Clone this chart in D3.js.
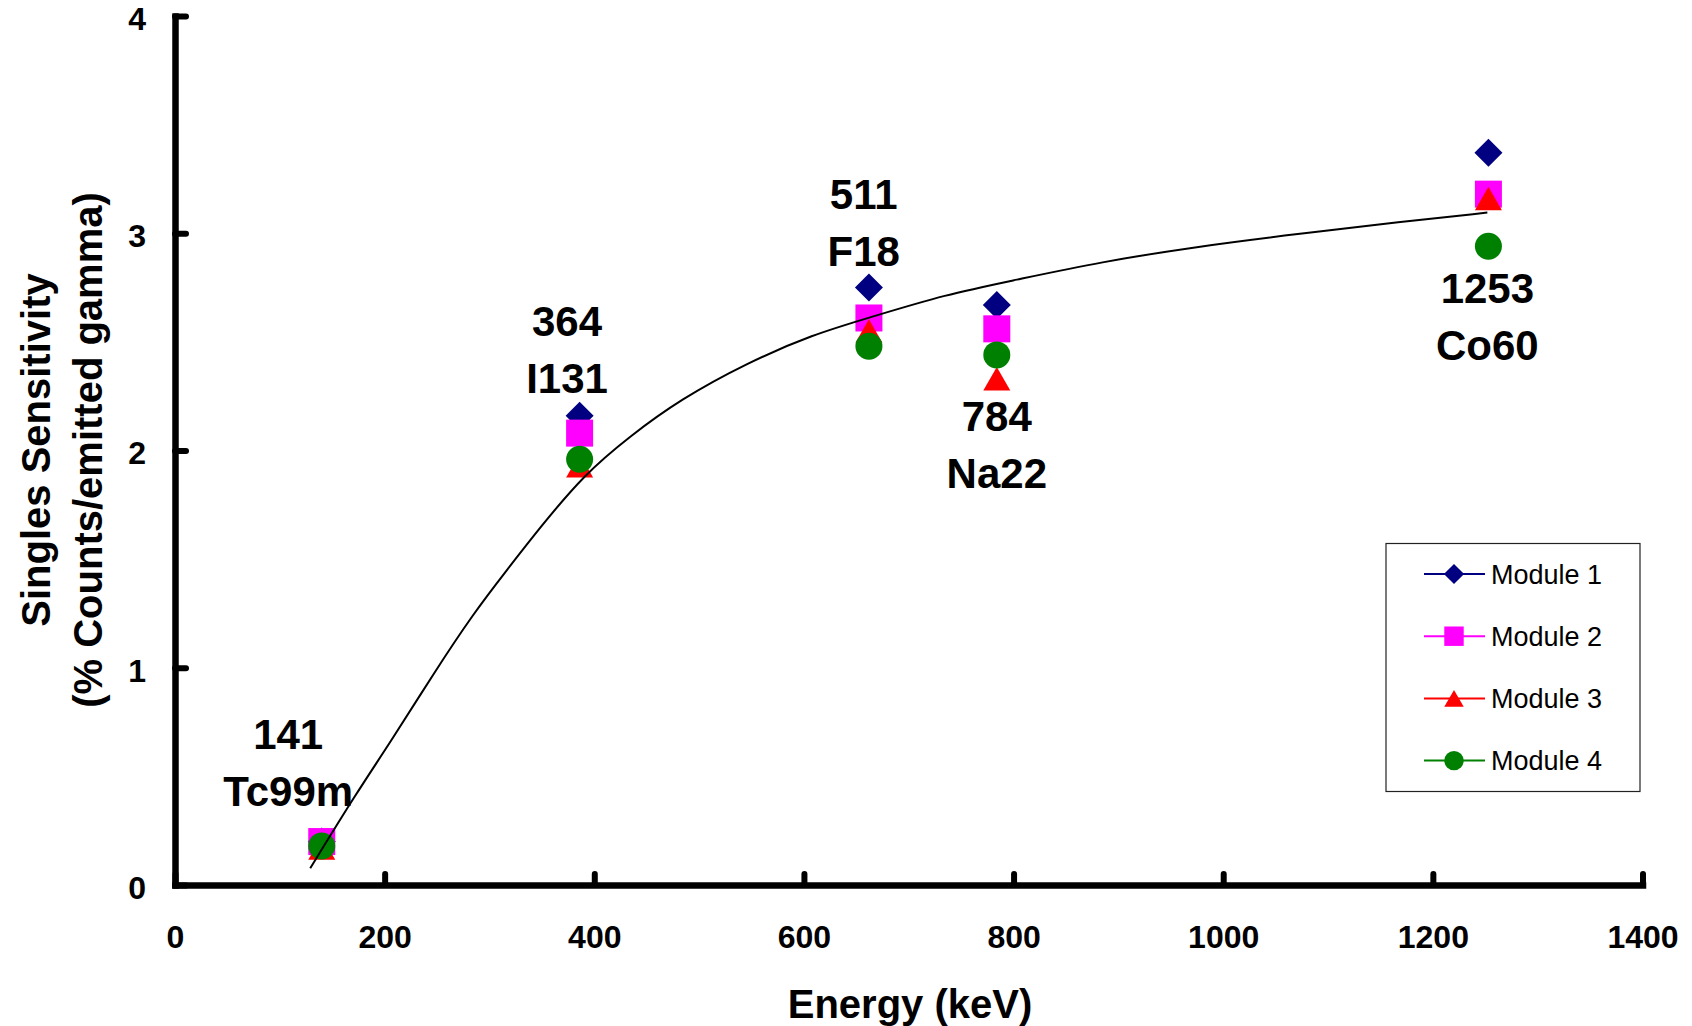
<!DOCTYPE html>
<html>
<head>
<meta charset="utf-8">
<script src="https://cdn.jsdelivr.net/npm/d3@7"></script>
<style>
  html, body { margin: 0; padding: 0; background: #fff; }
  svg { display: block; font-family: "Liberation Sans", Arial, Helvetica, sans-serif; }
</style>
</head>
<body>
<svg id="chart" width="1692" height="1026"></svg>
<script>
// measured energies (keV) and singles sensitivity per module
const energies = [140, 386, 662, 784, 1253];
const module1 = [0.20, 2.16, 2.75, 2.67, 3.37];
const module2 = [0.20, 2.08, 2.61, 2.56, 3.18];
const module3 = [0.17, 1.93, 2.55, 2.33, 3.16];
const module4 = [0.18, 1.96, 2.48, 2.44, 2.94];

// fitted trend line
const fitEnergy = [129, 173, 205, 247, 285, 317, 348, 390, 434, 482, 546, 609, 662, 736, 800, 883, 978, 1073, 1169, 1252];
const fitSens = [0.077, 0.423, 0.653, 0.976, 1.252, 1.452, 1.644, 1.888, 2.066, 2.235, 2.404, 2.535, 2.611, 2.719, 2.783, 2.868, 2.941, 2.998, 3.052, 3.095];

// source annotations: energy line, isotope line, anchor in data units
const labelTop = ["141", "364", "511", "784", "1253"];
const labelBottom = ["Tc99m", "I131", "F18", "Na22", "Co60"];
const labelE = [108, 374, 657, 784, 1252];
const labelS = [0.696, 2.594, 3.18, 2.16, 2.747];

const xTicks = [0, 200, 400, 600, 800, 1000, 1200, 1400];
const yTicks = [0, 1, 2, 3, 4];
const seriesNames = ["Module 1", "Module 2", "Module 3", "Module 4"];

const colors = ["#000080", "#FF00FF", "#FF0000", "#008000"];
const shapes = ["diamond", "square", "triangle", "circle"];

const svg = d3.select("#chart");
svg.append("rect").attr("width", 1692).attr("height", 1026).attr("fill", "#fff");

const x = d3.scaleLinear().domain([0, 1400]).range([175, 1642.5]);
const y = d3.scaleLinear().domain([0, 4]).range([885, 16]);

// marker drawing, sized to ~27px boxes like the original
function marker(sel, shape, k) {
    const s = k || 1;
    if (shape === "diamond") {
        sel.attr("d", d3.symbol(d3.symbolSquare, 392 * s * s)()).attr("data-rot", 45);
    } else if (shape === "square") {
        sel.attr("d", d3.symbol(d3.symbolSquare, 729 * s * s)());
    } else if (shape === "triangle") {
        sel.attr("d", d3.symbol(d3.symbolTriangle, 315.7 * s * s)()).attr("data-dy", 3.9 * s);
    } else {
        sel.attr("d", d3.symbol(d3.symbolCircle, 572.6 * s * s)());
    }
}

const allSeries = [module1, module2, module3, module4];
const pts = svg.append("g").attr("class", "points");
allSeries.forEach((vals, i) => {
    const g = pts.append("g");
    vals.forEach((v, j) => {
        const p = g.append("path").attr("fill", colors[i]);
        marker(p, shapes[i]);
        const rot = +p.attr("data-rot") || 0;
        const dy = +p.attr("data-dy") || 0;
        p.attr("transform", `translate(${x(energies[j])},${y(v) + dy}) rotate(${rot})`);
    });
});

// fitted curve goes over the markers
const line = d3.line().x((d, i) => x(fitEnergy[i])).y(d => y(d)).curve(d3.curveBasis);
svg.append("path")
    .datum(fitSens)
    .attr("d", line)
    .attr("fill", "none")
    .attr("stroke", "#000")
    .attr("stroke-width", 2);

// axes
const xAxis = svg.append("g")
    .attr("transform", `translate(0,${y(0)})`)
    .call(d3.axisBottom(x).tickValues(xTicks).tickFormat(d3.format("d")).tickSizeInner(-11).tickSizeOuter(0).tickPadding(0));
const yAxis = svg.append("g")
    .attr("transform", `translate(${x(0)},0)`)
    .call(d3.axisLeft(y).tickValues(yTicks).tickFormat(d3.format("d")).tickSizeInner(-11).tickSizeOuter(0).tickPadding(0));

[xAxis, yAxis].forEach(ax => {
    ax.select(".domain").attr("stroke", "#000").attr("stroke-width", 6.5).attr("stroke-linecap", "square");
    ax.selectAll(".tick line").attr("stroke", "#000").attr("stroke-width", 6).attr("stroke-linecap", "round");
    ax.selectAll(".tick text")
        .attr("fill", "#000")
        .style("font-family", "'Liberation Sans', Arial, sans-serif")
        .style("font-weight", "bold")
        .style("font-size", "32px");
});
xAxis.selectAll(".tick text").attr("y", 63).attr("dy", null);
yAxis.selectAll(".tick text").attr("x", -29).attr("dy", "0.42em");

// axis titles
svg.append("text")
    .attr("x", 910).attr("y", 1018)
    .attr("text-anchor", "middle")
    .style("font-weight", "bold").style("font-size", "40px")
    .text("Energy (keV)");

const yTitle = svg.append("text")
    .attr("transform", "translate(0,450) rotate(-90)")
    .attr("text-anchor", "middle")
    .style("font-weight", "bold").style("font-size", "40px");
yTitle.append("tspan").attr("x", 0).attr("y", 50).text("Singles Sensitivity");
yTitle.append("tspan").attr("x", 0).attr("y", 102).text("(% Counts/emitted gamma)");

// source labels
const ann = svg.append("g").style("font-weight", "bold").style("font-size", "42px").attr("text-anchor", "middle");
labelTop.forEach((t, i) => {
    const cx = x(labelE[i]);
    const cy = y(labelS[i]);
    ann.append("text").attr("x", cx).attr("y", cy + 15).text(t);
    ann.append("text").attr("x", cx).attr("y", cy + 57 + 15).text(labelBottom[i]);
});

// legend
const legend = svg.append("g");
legend.append("rect")
    .attr("x", 1386).attr("y", 543.5)
    .attr("width", 254).attr("height", 248)
    .attr("fill", "#fff").attr("stroke", "#222").attr("stroke-width", 1.2);
seriesNames.forEach((name, i) => {
    const ly = 574 + i * 62.2;
    legend.append("line")
        .attr("x1", 1424).attr("x2", 1485).attr("y1", ly).attr("y2", ly)
        .attr("stroke", colors[i]).attr("stroke-width", 2);
    const p = legend.append("path").attr("fill", colors[i]);
    marker(p, shapes[i], 0.72);
    const rot = +p.attr("data-rot") || 0;
    const dy = +p.attr("data-dy") || 0;
    p.attr("transform", `translate(1454,${ly + dy}) rotate(${rot})`);
    legend.append("text")
        .attr("x", 1491).attr("y", ly + 9.5)
        .style("font-size", "27px")
        .text(name);
});
</script>
</body>
</html>
